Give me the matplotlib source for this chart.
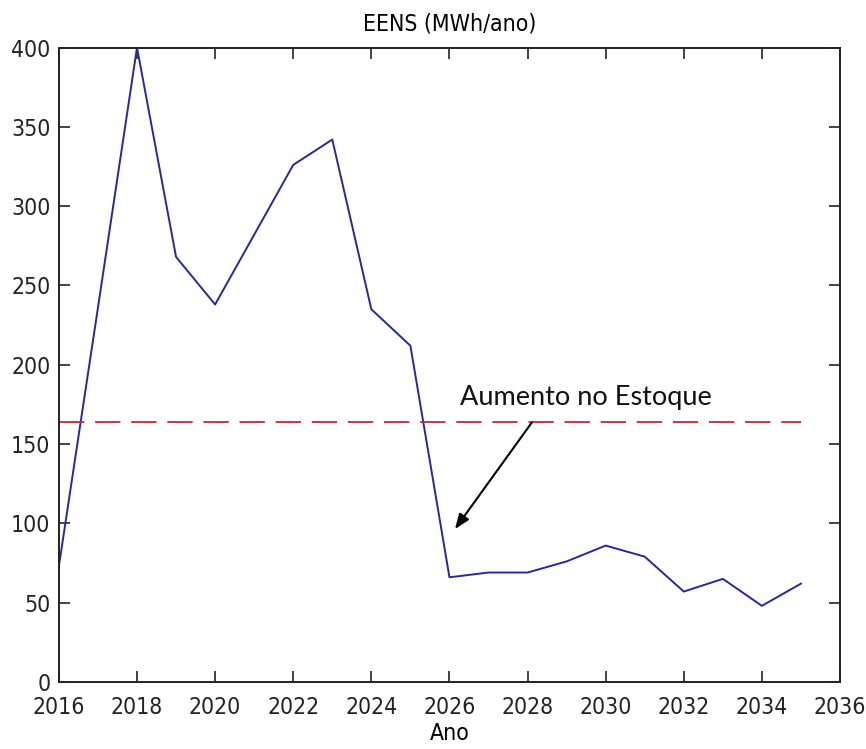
import matplotlib
matplotlib.use("Agg")
import matplotlib.pyplot as plt

years = [2016, 2017, 2018, 2019, 2020, 2021, 2022, 2023, 2024, 2025,
         2026, 2027, 2028, 2029, 2030, 2031, 2032, 2033, 2034, 2035]
eens = [73, 236, 400, 268, 238, 282, 326, 342, 235, 212,
        66, 69, 69, 76, 86, 79, 57, 65, 48, 62]
ref_level = 164
ref_years = [2016, 2035]

xticks = list(range(2016, 2037, 2))
yticks = list(range(0, 401, 50))

title = "EENS (MWh/ano)"
xlabel = "Ano"
annot_text = "Aumento no Estoque"
annot_xy = (2026.1, 95)
annot_text_pos = (2028.15, 165)

mfont = ['DejaVu Sans', 'Liberation Sans']
fs = 16.5

fig = plt.figure(figsize=(8.66, 7.49), dpi=100)
ax = fig.add_axes([0.068, 0.0895, 0.902, 0.847])

ax.plot(years, eens, color='#2626a6', lw=1.4)
ax.plot(ref_years, [ref_level, ref_level], color='#c0283c', lw=1.3,
        dashes=(14, 6))

ax.set_xlim(2016, 2036)
ax.set_ylim(0, 400)
ax.set_xticks(xticks)
ax.set_yticks(yticks)
ax.set_xticklabels([str(t) for t in xticks], fontfamily=mfont, fontsize=fs,
                   fontstretch='condensed')
ax.set_yticklabels([str(t) for t in yticks], fontfamily=mfont, fontsize=fs,
                   fontstretch='condensed')
ax.tick_params(direction='in', length=8, width=1.2, top=True, right=True,
               colors='#222222')
ax.tick_params(axis='x', pad=10)
ax.tick_params(axis='y', pad=6)
for s in ax.spines.values():
    s.set_linewidth(1.4)
    s.set_color('#222222')

ax.set_title(title, fontfamily=mfont, fontsize=fs, pad=12,
             fontstretch='condensed')
ax.set_xlabel(xlabel, fontfamily=mfont, fontsize=fs, labelpad=2,
              fontstretch='condensed')

ax.annotate('', xy=annot_xy, xytext=annot_text_pos,
            arrowprops=dict(arrowstyle='-|>,head_length=0.9,head_width=0.35',
                            color='black', lw=1.5))
ax.text(2026.28, 179.5, annot_text, fontfamily=['Lato', 'DejaVu Sans'],
        fontsize=19.5, ha='left', va='center', color='#111111')

fig.savefig('out.png', dpi=100)
